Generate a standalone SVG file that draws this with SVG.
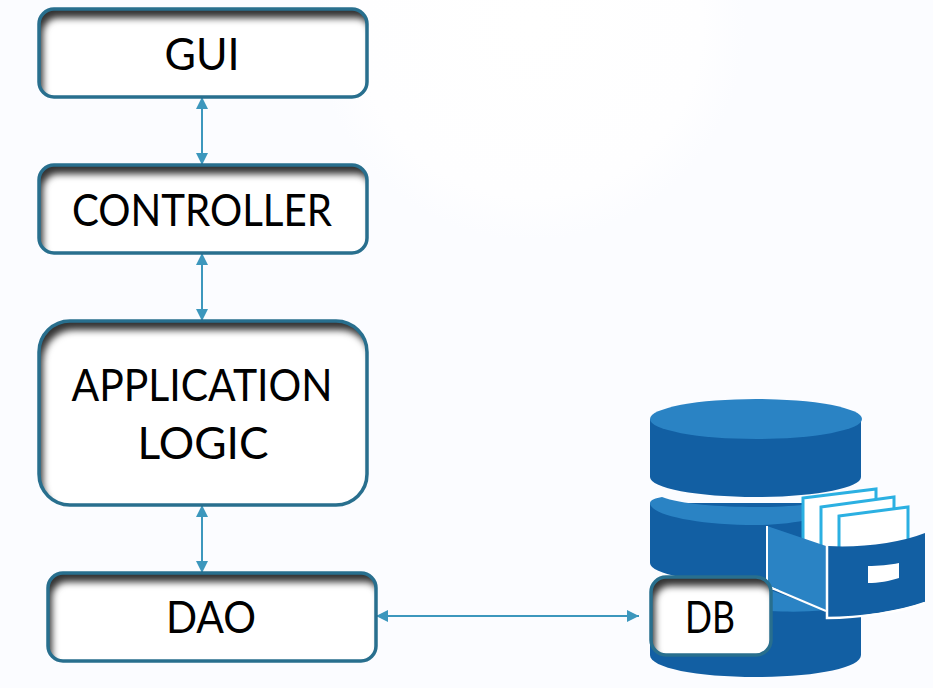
<svg xmlns="http://www.w3.org/2000/svg" width="933" height="688" viewBox="0 0 933 688">
<style>
.box{fill:#fff;filter:url(#inner)}
.edge{fill:none;stroke:#286f8e;stroke-width:3.5}
.lbl{font-family:"Lato","Liberation Sans",sans-serif;font-size:44px;fill:#000;text-anchor:middle}
.conn{stroke:#3c97bd;stroke-width:2;fill:none;marker-start:url(#tip);marker-end:url(#tip)}
.dk{fill:#125fa3}.lt{fill:#2a83c4}
.paper{fill:#fff;stroke:#2bb0e2;stroke-width:3}
</style>
<defs>
<marker id="tip" markerUnits="userSpaceOnUse" markerWidth="12" markerHeight="12" refX="12" refY="6" orient="auto-start-reverse"><path d="M0 0L12 6L0 12Z" fill="#3c97bd"/></marker>
<radialGradient id="glow"><stop offset="0" stop-color="#fff"/><stop offset=".8" stop-color="#fefeff"/><stop offset="1" stop-color="#fbfcff"/></radialGradient>
<filter id="inner" x="-30%" y="-60%" width="160%" height="220%" color-interpolation-filters="sRGB">
<feComponentTransfer in="SourceAlpha" result="inv"><feFuncA type="table" tableValues="1 0"/></feComponentTransfer>
<feOffset in="inv" dx="4" dy="9" result="off"/>
<feGaussianBlur in="off" stdDeviation="3.5" result="blur"/>
<feFlood flood-color="#333"/>
<feComposite in2="blur" operator="in" result="sh"/>
<feComposite in="sh" in2="SourceAlpha" operator="in" result="clip"/>
<feMerge><feMergeNode in="SourceGraphic"/><feMergeNode in="clip"/></feMerge>
</filter>
</defs>
<rect width="933" height="688" fill="#fbfcff"/>
<circle cx="530" cy="25" r="215" fill="url(#glow)"/>
<g id="connectors">
<line class="conn" x1="202" y1="97" x2="202" y2="165"/>
<line class="conn" x1="202" y1="253" x2="202" y2="321"/>
<line class="conn" x1="202" y1="505" x2="202" y2="573"/>
<line class="conn" x1="376" y1="616" x2="639" y2="616"/>
</g>
<g id="gui"><rect class="box" x="39" y="9" width="328" height="88" rx="15"/><rect class="edge" x="39" y="9" width="328" height="88" rx="15"/><text class="lbl" x="202" y="70" textLength="75" lengthAdjust="spacingAndGlyphs">GUI</text></g>
<g id="controller"><rect class="box" x="39" y="165" width="328" height="88" rx="15"/><rect class="edge" x="39" y="165" width="328" height="88" rx="15"/><text class="lbl" x="202" y="226" textLength="260" lengthAdjust="spacingAndGlyphs">CONTROLLER</text></g>
<g id="application-logic"><rect class="box" x="39" y="321" width="328" height="184" rx="31"/><rect class="edge" x="39" y="321" width="328" height="184" rx="31"/><text class="lbl" x="202" y="401" textLength="261" lengthAdjust="spacingAndGlyphs">APPLICATION</text><text class="lbl" x="203" y="459" textLength="131" lengthAdjust="spacingAndGlyphs">LOGIC</text></g>
<g id="dao"><rect class="box" x="48" y="573" width="328" height="88" rx="15"/><rect class="edge" x="48" y="573" width="328" height="88" rx="15"/><text class="lbl" x="211" y="633" textLength="90" lengthAdjust="spacingAndGlyphs">DAO</text></g>
<g id="db-icon">
<path class="dk" d="M650 419V477C650 488 697 497 756 497S861 488 861 477V419Z"/>
<ellipse class="lt" cx="756" cy="419" rx="106" ry="20"/>
<path class="dk" d="M650 503V563C650 574 697 583 756 583S861 574 861 563V503Z"/>
<path class="lt" d="M662 497C680 504 720 507 756 507C780 507 795 506 810 504V519C795 523 775 525 756 525C697 525 650 515 650 503C650 500 656 498 662 497Z"/>
<path class="dk" d="M650 590V655C650 668 697 677 756 677S861 668 861 655V590Z"/>
<path class="lt" d="M770 590L825 610C805 612 790 612 770 611Z"/>
<path d="M803 498L876 489V545L803 550Z" class="paper"/>
<path d="M821 507L894 497V545L821 555Z" class="paper"/>
<path d="M839 516L908 507V545L839 555Z" class="paper"/>
<path class="lt" d="M767 526L826 546V610L767 585Z"/>
<path d="M767 526V586L826 611" fill="none" stroke="#fff" stroke-width="2"/>
<path class="dk" d="M828 546C860 548 900 543 925 533V602C900 611 860 617 828 617Z"/>
<path d="M827 546V618C860 618 900 612 925 603" fill="none" stroke="#fff" stroke-width="2.5"/>
<path d="M868 566C878 566 890 565 899 563V578C890 581 878 583 868 583Z" fill="#fff"/>
</g>
<g id="db"><rect class="box" x="651" y="577" width="120" height="78" rx="15"/><rect class="edge" x="651" y="577" width="120" height="78" rx="15"/><text class="lbl" x="710" y="633" textLength="50" lengthAdjust="spacingAndGlyphs">DB</text></g>
</svg>
